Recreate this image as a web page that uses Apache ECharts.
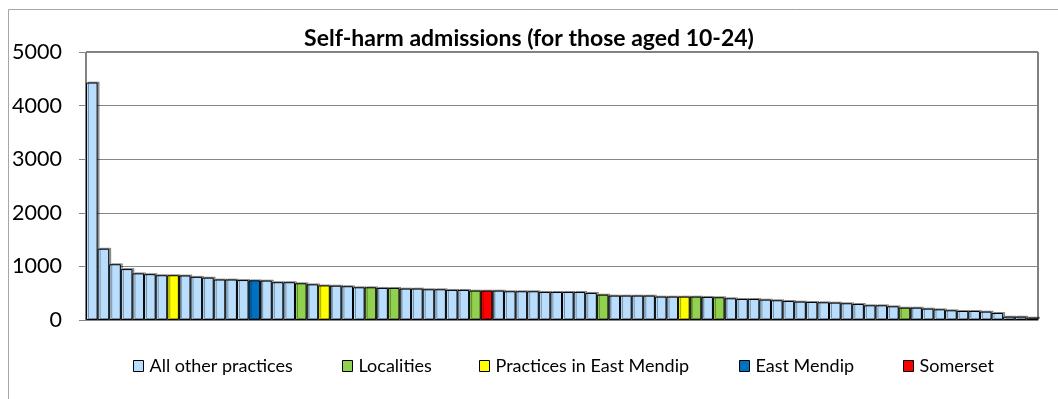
<!DOCTYPE html>
<html>
<head>
<meta charset="utf-8">
<script src="https://cdn.jsdelivr.net/npm/echarts@6/dist/echarts.min.js"></script>
<style>html,body{margin:0;padding:0;background:#fff}#c{width:1058px;height:399px}</style>
</head>
<body>
<div id="c"></div>
<script>
// Values, sorted as in the chart (82 bars)
const values = [4430,1330,1040,950,870,855,835,835,830,805,
  790,755,755,745,740,735,705,705,685,665,
  645,640,630,610,610,598,598,586,586,573,
  573,561,561,548,548,548,536,536,536,523,
  523,523,523,505,473,455,455,455,455,436,
  436,436,436,430,424,405,392,392,380,368,
  355,343,336,330,324,312,299,274,274,255,
  230,230,212,199,181,168,168,156,131,62,
  62,44];
// Group of each bar: A = All other practices, L = Localities, Y = Practices in East Mendip, E = East Mendip, S = Somerset
const groups = ['A','A','A','A','A','A','A','Y','A','A',
  'A','A','A','A','E','A','A','A','L','A',
  'Y','A','A','A','L','A','L','A','A','A',
  'A','A','A','L','S','A','A','A','A','A',
  'A','A','A','A','L','A','A','A','A','A',
  'A','Y','L','A','L','A','A','A','A','A',
  'A','A','A','A','A','A','A','A','A','A',
  'L','A','A','A','A','A','A','A','A','A',
  'A','A'];
const seriesNames = ['All other practices','Localities','Practices in East Mendip','East Mendip','Somerset'];
const seriesKeys = ['A','L','Y','E','S'];
const seriesColors = ['#B9DEFD','#92D050','#FFFF00','#0070C0','#FF0000'];
const yTicks = [0,1000,2000,3000,4000,5000];
const categories = values.map((v,i)=>String(i+1));

const legendLefts = [128,337,474,734,898];

const series = seriesKeys.map((k,si)=>({
  name: seriesNames[si],
  type: 'bar',
  stack: 'all',
  barCategoryGap: '0%',
  data: values.map((v,i)=> groups[i]===k ? v : '-'),
  itemStyle: {color: seriesColors[si], borderColor:'#000', borderWidth:1,
    shadowColor:'rgba(0,0,0,0.35)', shadowOffsetX:2, shadowOffsetY:-1, shadowBlur:0},
  emphasis:{disabled:true},
  animation:false
}));

const legends = seriesNames.map((n,i)=>({
  data:[n], left: legendLefts[i], top: 352, icon:'rect', itemWidth:10, itemHeight:11, itemGap:4,
  textStyle:{fontFamily:'Lato', fontSize:18, color:'#000', padding:[0,0,0,1]},
  itemStyle:{borderColor:'#000', borderWidth:1}
}));

const chart = echarts.init(document.getElementById('c'), null, {renderer:'canvas'});
chart.setOption({
  animation:false,
  title:{text:'Self-harm admissions (for those aged 10-24)', left:'center', top:22,
    textStyle:{fontFamily:'Lato', fontSize:23, fontWeight:'bold', color:'#000'}},
  legend: legends,
  graphic:[{type:'rect', shape:{x:8.5,y:9.5,width:1200,height:600}, style:{fill:null, stroke:'#A6A6A6', lineWidth:1}, silent:true}],
  grid:{left:86, right:20, top:52, bottom:79, show:true, borderColor:'#000', borderWidth:1, backgroundColor:'transparent'},
  xAxis:{type:'category', data:categories, axisLabel:{show:false}, axisTick:{show:false},
    axisLine:{lineStyle:{color:'#868686'}}},
  yAxis:{type:'value', min:yTicks[0], max:yTicks[yTicks.length-1], interval:1000,
    axisLine:{show:true, lineStyle:{color:'#868686'}},
    axisTick:{show:true, length:7, lineStyle:{color:'#868686'}},
    axisLabel:{fontFamily:'Lato', fontSize:21.5, color:'#000', margin:24, formatter:(v)=>String(v)},
    splitLine:{lineStyle:{color:'#868686'}}},
  series: series
});
</script>
</body>
</html>
